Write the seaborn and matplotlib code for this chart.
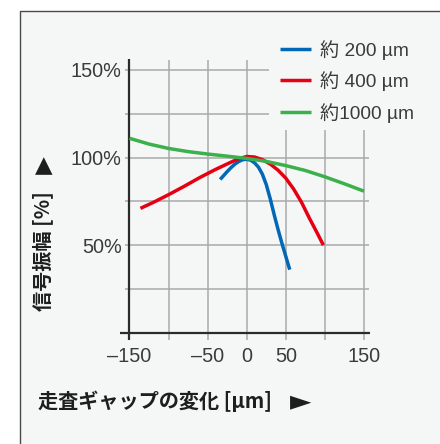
import matplotlib
matplotlib.use("Agg")
import matplotlib.pyplot as plt
from matplotlib.patches import Rectangle
from matplotlib.lines import Line2D
import pandas as pd
import seaborn as sns

# Scanning-gap change (µm) versus relative signal amplitude (%)
gap_200 = [-34, -30, -25, -20, -15, -10, -5, 0, 5, 10, 15, 20, 25, 30, 35, 40, 45, 50, 55]
amp_200 = [87.5, 89.5, 92.0, 94.3, 96.3, 97.8, 98.8, 99.0, 98.5, 97.0, 94.5, 90.5,
           84.5, 76.5, 67.5, 59.0, 51.0, 43.5, 36.0]

gap_400 = [-136, -120, -100, -80, -60, -40, -20, -10, 0, 10, 20, 30, 40, 50, 60, 70, 80, 90, 98]
amp_400 = [71.0, 74.3, 78.8, 83.6, 88.6, 93.2, 97.4, 99.4, 100.6, 100.3, 98.8, 96.3,
           92.8, 88.2, 82.0, 74.5, 65.5, 57.0, 50.0]

gap_1000 = [-150, -125, -100, -75, -50, -25, 0, 25, 50, 75, 100, 125, 150]
amp_1000 = [111.0, 107.7, 105.2, 103.4, 102.0, 100.8, 99.5, 97.8, 95.4, 92.6, 89.0, 85.0, 80.8]

series_labels = ["約 200 µm", "約 400 µm", "約1000 µm"]
series_colors = ["#0068b7", "#e60012", "#3cb04a"]

x_ticks = [-150, -50, 0, 50, 150]
x_tick_labels = ["\u2013150", "\u201350", "0", "50", "150"]
y_ticks = [50, 100, 150]
y_tick_labels = ["50%", "100%", "150%"]

x_label = "走査ギャップの変化 [µm]"
y_label = "信号振幅 [%]"
x_arrow = "\u25ba"
y_arrow = "\u25b2"

df = pd.concat([
    pd.DataFrame({"gap": gap_200, "amp": amp_200, "series": series_labels[0]}),
    pd.DataFrame({"gap": gap_400, "amp": amp_400, "series": series_labels[1]}),
    pd.DataFrame({"gap": gap_1000, "amp": amp_1000, "series": series_labels[2]}),
])

sns.set_theme(style="white")
plt.rcParams["font.family"] = ["Liberation Sans", "Noto Sans CJK JP", "DejaVu Sans"]

W, H = 440, 444
fig = plt.figure(figsize=(W / 100, H / 100), dpi=100)
fig.patch.set_facecolor("white")

# light panel with a thin border running off the right and bottom edges
panel = Rectangle((20 / W, -0.2), 1.5, 1 - 11 / H + 0.2, transform=fig.transFigure,
                  facecolor="#f5f7f7", edgecolor="#4a4a4a", linewidth=1.0, zorder=-5)
fig.add_artist(panel)

xmin, xmax = -162, 157
ymin, ymax = -5, 157
ax = fig.add_axes([120.1 / W, 1 - 341.5 / H, 249.4 / W, 283.8 / H])
ax.set_facecolor("none")
ax.set_xlim(xmin, xmax)
ax.set_ylim(ymin, ymax)
for s in ax.spines.values():
    s.set_visible(False)

grid_kw = dict(color="#a9a9a9", linewidth=1.1, zorder=1)
# horizontal grid lines (the upper two stop short of the legend)
for yv in [25, 50, 75, 100]:
    ax.hlines(yv, -155.5, 156, **grid_kw)
for yv in [125, 150]:
    ax.hlines(yv, -155.5, 29, **grid_kw)
# vertical grid lines (the right three stop below the legend)
for xv in [-100, -50, 0]:
    ax.vlines(xv, -4, 155.5, **grid_kw)
for xv in [50, 100, 150]:
    ax.vlines(xv, -4, 115.5, **grid_kw)

# axis lines
ax.hlines(0, -162, 157, color="#2b2b2b", linewidth=1.6, zorder=2)
ax.vlines(-150, -4, 156, color="#2b2b2b", linewidth=1.6, zorder=2)

sns.lineplot(data=df, x="gap", y="amp", hue="series", hue_order=series_labels,
             palette=series_colors, estimator=None, sort=True, linewidth=2.5,
             ax=ax, zorder=3, legend=False)
for ln in ax.lines:
    ln.set_solid_capstyle("butt")

ax.set_xlabel("")
ax.set_ylabel("")
tick_font = dict(fontsize=14.3, color="#3a3a3a")
ax.set_xticks(x_ticks)
ax.set_xticklabels(x_tick_labels, **tick_font)
ax.set_yticks(y_ticks)
ax.set_yticklabels(y_tick_labels, **tick_font)
ax.tick_params(axis="x", length=0, pad=4)
ax.tick_params(axis="y", length=0, pad=-1.2)

handles = [Line2D([0], [0], color=c, linewidth=2.5, solid_capstyle="butt") for c in series_colors]
ax.legend(handles, series_labels, loc="upper left",
          bbox_to_anchor=(280 / W, 1 - 40 / H), bbox_transform=fig.transFigure,
          frameon=False, borderpad=0, borderaxespad=0, handlelength=1.6,
          handletextpad=0.5, labelspacing=0.6,
          prop=dict(size=13.8, family=["Liberation Sans", "Noto Sans CJK JP"]),
          labelcolor="#3a3a3a")

label_font = dict(fontsize=14.5, fontweight="bold", color="#1e1e1e",
                  family=["Noto Sans CJK JP", "DejaVu Sans"])
fig.text(38 / W, 1 - 401.7 / H, x_label, ha="left", va="center", **label_font)
fig.text(300.5 / W, 1 - 401.3 / H, x_arrow, ha="center", va="center", fontsize=20,
         color="#1e1e1e", family="DejaVu Sans")
fig.text(43 / W, 1 - 251.5 / H, y_label, ha="center", va="center", rotation=90, **label_font)
fig.text(43.7 / W, 1 - 165.5 / H, y_arrow, ha="center", va="center", fontsize=16.5,
         color="#1e1e1e", family="DejaVu Sans")

fig.savefig("out.png", dpi=100)
